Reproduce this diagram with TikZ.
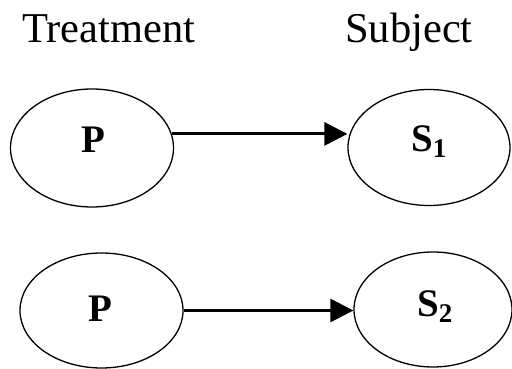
\documentclass[tikz,border=0pt]{standalone}
\usepackage{fontspec}
\setmainfont{Liberation Serif}
\usetikzlibrary{shapes.geometric,arrows.meta}
\tikzset{
  oval/.style={draw, shape=ellipse, inner sep=0pt, line width=1.3pt},
  head/.style={font=\fontsize{42.5}{42.5}\selectfont, inner sep=0pt, anchor=base west},
  sym/.style={font=\fontsize{39}{39}\selectfont\bfseries, inner sep=0pt},
  link/.style={line width=3pt, -{Triangle[length=23pt,width=23pt]}}
}
\newcommand{\subnum}[1]{\raisebox{-6pt}{\fontsize{27}{27}\selectfont #1}}
\begin{document}
\begin{tikzpicture}[x=1pt,y=1pt]
\useasboundingbox (0,0) rectangle (512,369);
\node[head] (treat) at (22,326) {Treatment};
\node[head] (subj) at (345,326) {Subject};
\node[oval, minimum width=163pt, minimum height=118pt] (p1) at (92,221) {};
\node[oval, minimum width=162pt, minimum height=116pt] (s1) at (429,221.5) {};
\node[oval, minimum width=163pt, minimum height=115pt] (p2) at (101.5,58.5) {};
\node[oval, minimum width=158pt, minimum height=115pt] (s2) at (433,59.5) {};
\node[sym, anchor=base] (p1t) at (93.5,216) {P};
\node[sym, anchor=base west] (s1t) at (411,217) {S\subnum{1}};
\node[sym, anchor=base] (p2t) at (100.5,47) {P};
\node[sym, anchor=base west] (s2t) at (417,52) {S\subnum{2}};
\draw[link] (p1.10) -- (p1.10 -| s1.west);
\draw[link] (p2.east) -- (p2.east -| s2.west);
\end{tikzpicture}
\end{document}
